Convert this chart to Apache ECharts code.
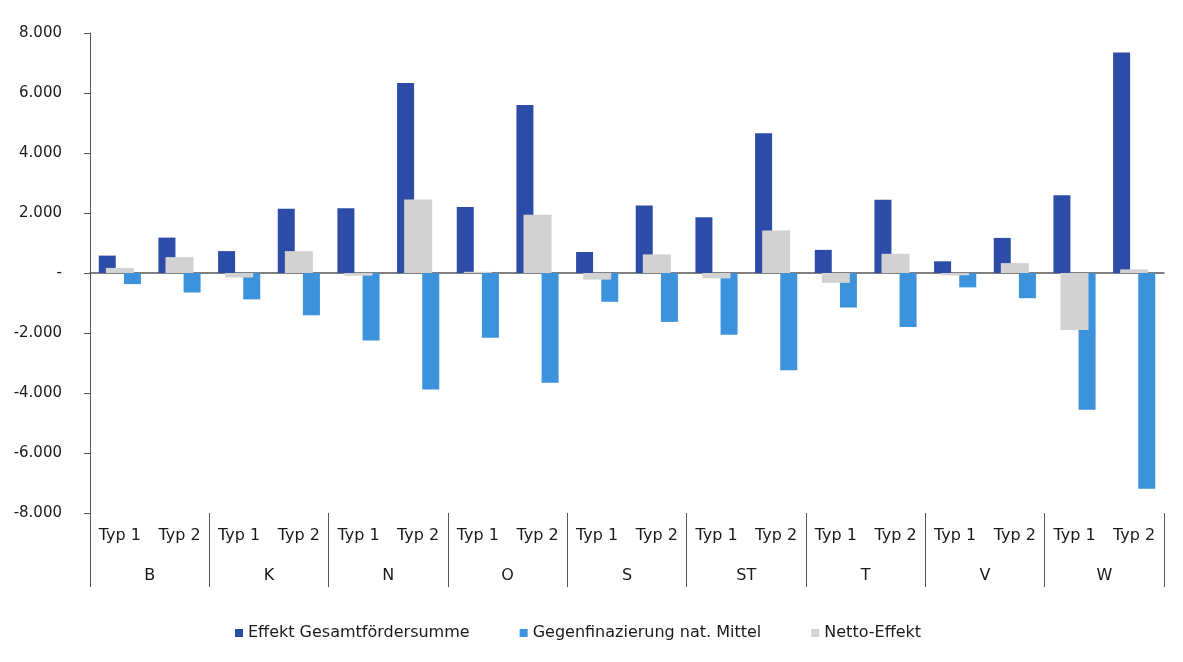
<!DOCTYPE html>
<html>
<head>
<meta charset="utf-8">
<script src="https://cdn.jsdelivr.net/npm/echarts@6/dist/echarts.min.js"></script>
<style>
  html, body { margin: 0; padding: 0; background: #fff; }
  #chart { width: 1183px; height: 662px; }
</style>
</head>
<body>
<div id="chart"></div>
<script>
// categories: two levels, Typ within each region
const groups = ['B', 'K', 'N', 'O', 'S', 'ST', 'T', 'V', 'W'];
const types = ['Typ 1', 'Typ 2'];

// values, order B Typ1, B Typ2, K Typ1, ...
const effektGesamt = [580, 1180, 730, 2140, 2160, 6330, 2200, 5600, 700, 2250,
                      1860, 4660, 770, 2440, 390, 1170, 2590, 7350];
const gegenfinanzierung = [-370, -650, -880, -1410, -2250, -3880, -2160, -3660, -960, -1630,
                           -2060, -3240, -1150, -1800, -480, -840, -4560, -7190];
const nettoEffekt = [170, 530, -150, 730, -90, 2450, 40, 1940, -220, 620,
                     -180, 1420, -330, 640, -80, 330, -1900, 120];

const seriesNames = ['Effekt Gesamtfördersumme', 'Gegenfinazierung nat. Mittel', 'Netto-Effekt'];
const colors = ['#2d4ca8', '#3d92dc', '#d2d2d2'];

const yTicks = [-8000, -6000, -4000, -2000, 0, 2000, 4000, 6000, 8000];

const categories = [];
groups.forEach(g => types.forEach(t => categories.push(g + '|' + t)));

const fontFamily = 'DejaVu Sans, sans-serif';
const textColor = '#1a1a1a';

function formatDe(v) {
    if (v === 0) return '-';
    const s = Math.abs(v).toString().replace(/\B(?=(\d{3})+(?!\d))/g, '.');
    return (v < 0 ? '-' : '') + s;
}

const chart = echarts.init(document.getElementById('chart'));

const option = {
    animation: false,
    textStyle: { fontFamily: fontFamily },
    legend: {
        bottom: 16,
        left: 230,
        itemWidth: 8,
        itemHeight: 8,
        itemGap: 50,
        icon: 'rect',
        textStyle: { fontSize: 16, color: textColor, fontFamily: fontFamily },
        data: seriesNames
    },
    grid: { left: 90, right: 19, top: 33, bottom: 149, containLabel: false },
    xAxis: [
        {
            // Typ level
            type: 'category',
            data: categories,
            position: 'bottom',
            axisLine: { show: false, onZero: false },
            axisTick: { show: false },
            axisLabel: {
                margin: 15,
                fontSize: 16,
                color: textColor,
                interval: 0,
                formatter: v => v.split('|')[1]
            }
        },
        {
            // hidden axis for the wider netto bars, its line sits on zero
            type: 'category',
            data: categories,
            position: 'top',
            axisLine: { show: true, onZero: true, lineStyle: { color: '#555', width: 1.5 } },
            axisTick: { show: false },
            axisLabel: { show: false }
        },
        {
            // region level with separators
            type: 'category',
            data: groups,
            position: 'bottom',
            axisLine: { show: false, onZero: false },
            axisTick: { show: true, length: 74, lineStyle: { color: '#555', width: 1 } },
            axisLabel: { margin: 55, fontSize: 16, color: textColor, interval: 0 }
        }
    ],
    yAxis: {
        type: 'value',
        min: -8000,
        max: 8000,
        interval: 2000,
        axisLine: { show: true, lineStyle: { color: '#555', width: 1 } },
        axisTick: { show: true, length: 6, lineStyle: { color: '#555' } },
        splitLine: { show: false },
        axisLabel: {
            margin: 28,
            fontSize: 15,
            color: textColor,
            formatter: formatDe
        }
    },
    series: [
        {
            name: seriesNames[0],
            type: 'bar',
            xAxisIndex: 0,
            data: effektGesamt,
            barWidth: 17,
            barGap: '48%',
            itemStyle: { color: colors[0] }
        },
        {
            name: seriesNames[1],
            type: 'bar',
            xAxisIndex: 0,
            data: gegenfinanzierung,
            barWidth: 17,
            barGap: '48%',
            itemStyle: { color: colors[1] }
        },
        {
            name: seriesNames[2],
            type: 'bar',
            xAxisIndex: 1,
            data: nettoEffekt,
            barWidth: 28,
            itemStyle: { color: colors[2] }
        }
    ]
};

chart.setOption(option);
</script>
</body>
</html>
